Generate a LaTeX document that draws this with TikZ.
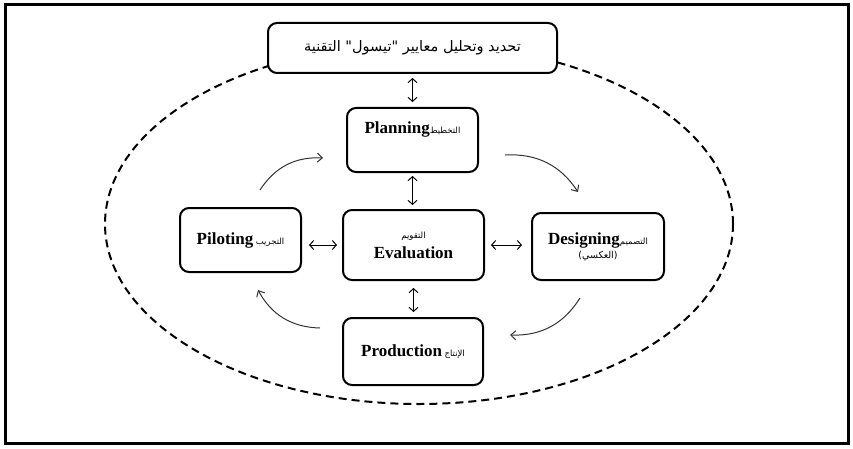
\documentclass[tikz,border=0pt]{standalone}
\usepackage{fontspec}
\setmainfont{Liberation Serif}
\newfontfamily\arabicfont[Script=Arabic]{DejaVu Sans}
\TeXXeTstate=1
\usetikzlibrary{arrows.meta}
\newcommand{\entxt}[1]{{\fontsize{17}{20}\selectfont\bfseries #1}}
\newcommand{\artxt}[1]{{\arabicfont\fontsize{8.5}{10}\selectfont\beginR #1\endR}}
\tikzstyle{stage}=[draw=black,line width=2pt,rounded corners=9pt,fill=white,align=center,inner sep=2pt]
\tikzstyle{dbl}=[{Straight Barb[length=4pt,width=9pt]}-{Straight Barb[length=4pt,width=9pt]},line width=1pt]
\tikzstyle{turn}=[-{Straight Barb[length=5pt,width=9pt]},line width=1pt,draw=black!80,bend left=30]
\tikzstyle{orbit}=[dashed,dash pattern=on 8pt off 5pt,line width=2pt]

\begin{document}
\begin{tikzpicture}[x=1pt,y=1pt]
      \useasboundingbox (0,0) rectangle (853,448);
      \draw[line width=3pt] (5,5) rectangle (848,443);
      \draw[orbit] (419,224) ellipse [x radius=314, y radius=180];
      \node[stage, minimum width=289pt, minimum height=50pt] at (412.5,400) (top)
        {{\arabicfont\fontsize{14.5}{16}\selectfont\beginR تحديد وتحليل معايير "تيسول" التقنية\endR}};
      \node[stage, minimum width=131pt, minimum height=64pt] at (412.5,308) (plan)
        {\entxt{Planning}\artxt{التخطيط}\\[12pt]};
      \node[stage, minimum width=141pt, minimum height=70pt] at (413.5,203) (eval)
        {\artxt{التقويم}\\[5pt]\entxt{Evaluation}};
      \node[stage, minimum width=121pt, minimum height=64pt] at (240.5,208) (pil)
        {\entxt{Piloting} \artxt{التجريب}};
      \node[stage, minimum width=132pt, minimum height=67pt] at (598,201.5) (des)
        {\entxt{Designing}\artxt{التصميم}\\[2pt]{\arabicfont\fontsize{9.5}{11}\selectfont\beginR(العكسي)\endR}};
      \node[stage, minimum width=140pt, minimum height=67pt] at (413,96.5) (prod)
        {\entxt{Production} \artxt{الإنتاج}};
      \draw[dbl, shorten <=5pt, shorten >=4pt] (plan.north) -- (plan.north |- top.south);
      \draw[dbl, shorten <=3pt, shorten >=4pt] (plan.south) -- (plan.south |- eval.north);
      \draw[dbl, shorten <=7pt, shorten >=5pt] (eval.south) -- (eval.south |- prod.north);
      \draw[dbl, shorten <=5pt, shorten >=7pt] (eval.west) -- (eval.west -| pil.east);
      \draw[dbl, shorten <=6pt, shorten >=9pt] (eval.east) -- (eval.east -| des.west);
      \coordinate (c1s) at (260,258);
      \coordinate (c1e) at (323,290);
      \coordinate (c2s) at (505,293);
      \coordinate (c2e) at (578,256);
      \coordinate (c3s) at (580,150);
      \coordinate (c3e) at (510,113);
      \coordinate (c4s) at (320,120);
      \coordinate (c4e) at (258,158);
      \draw[turn] (c1s) to (c1e);
      \draw[turn] (c2s) to (c2e);
      \draw[turn] (c3s) to (c3e);
      \draw[turn] (c4s) to (c4e);
    \end{tikzpicture}
\end{document}
